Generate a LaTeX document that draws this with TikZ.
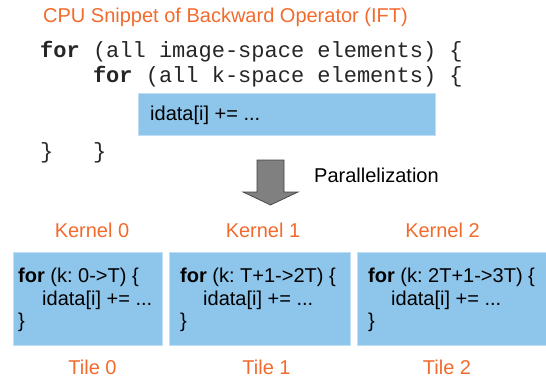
\documentclass[tikz,border=0pt]{standalone}
\usepackage{fontspec}
\setmainfont{Liberation Sans}
\setmonofont{Liberation Mono}
\usetikzlibrary{positioning}
\definecolor{tOrange}{HTML}{F26A2C}
\definecolor{tBlue}{HTML}{8DC5EB}
\definecolor{tGray}{HTML}{808080}
\frenchspacing

\begin{document}
\begin{tikzpicture}[
    x=1pt, y=-1pt,
    blockbox/.style={draw=tBlue!55!white, line width=0.6pt, fill=tBlue, inner sep=0pt,
                anchor=north west},
    codetxt/.style={font=\fontsize{20}{22.5}\selectfont, align=left, anchor=west, inner sep=0pt},
    monotxt/.style={font=\fontsize{22}{24}\ttfamily, text=black!85, anchor=west, inner sep=0pt},
    head/.style={font=\fontsize{20}{24}\selectfont, text=tOrange, inner sep=0pt},
]
\useasboundingbox (0,0) rectangle (546,377);

% serial snippet
\node[head, anchor=west] (title) at (43,17) {CPU Snippet of Backward Operator (IFT)};
\node[monotxt] (outer) at (40,52) {\textbf{for} (all image-space elements) \{};
\node[monotxt] (inner) at (40,77) {\ \ \ \ \textbf{for} (all k-space elements) \{};
\node[blockbox, minimum width=297pt, minimum height=42pt] (body) at (138,93) {};
\node[codetxt] (bodytxt) at (150,115) {idata[i] += ...};
\node[monotxt] (close) at (40,153) {\}\ \ \ \}};

% parallelization arrow
\draw[fill=tGray, draw=black!75, line width=0.7pt]
    (257,160) -- (284,160) -- (284,192) -- (298,192) -- (270.5,205)
    -- (243,192) -- (257,192) -- cycle;
\node[font=\fontsize{20}{24}\selectfont, anchor=west, inner sep=0pt] (para) at (314,175) {Parallelization};

% kernels / tiles
\node[blockbox, minimum width=149pt, minimum height=93pt] (tile0) at (13,252) {};
\node[blockbox, minimum width=181pt, minimum height=93pt] (tile1) at (169,252) {};
\node[blockbox, minimum width=189pt, minimum height=93pt] (tile2) at (357,252) {};

\node[codetxt] (code0) at (18,300) {\textbf{for} (k: 0->T) \{\\\hspace*{24pt}idata[i] += ...\\\}};
\node[codetxt] (code1) at (180,300) {\textbf{for} (k: T+1->2T) \{\\\hspace*{23pt}idata[i] += ...\\\}};
\node[codetxt] (code2) at (368,300) {\textbf{for} (k: 2T+1->3T) \{\\\hspace*{23pt}idata[i] += ...\\\}};

\node[head] (kern0) at (92,230) {Kernel 0};
\node[head] (kern1) at (263,230) {Kernel 1};
\node[head] (kern2) at (442.5,230) {Kernel 2};

\node[head] (lab0) at (92.5,367) {Tile 0};
\node[head] (lab1) at (266.5,367) {Tile 1};
\node[head] (lab2) at (447,367) {Tile 2};
\end{tikzpicture}
\end{document}
